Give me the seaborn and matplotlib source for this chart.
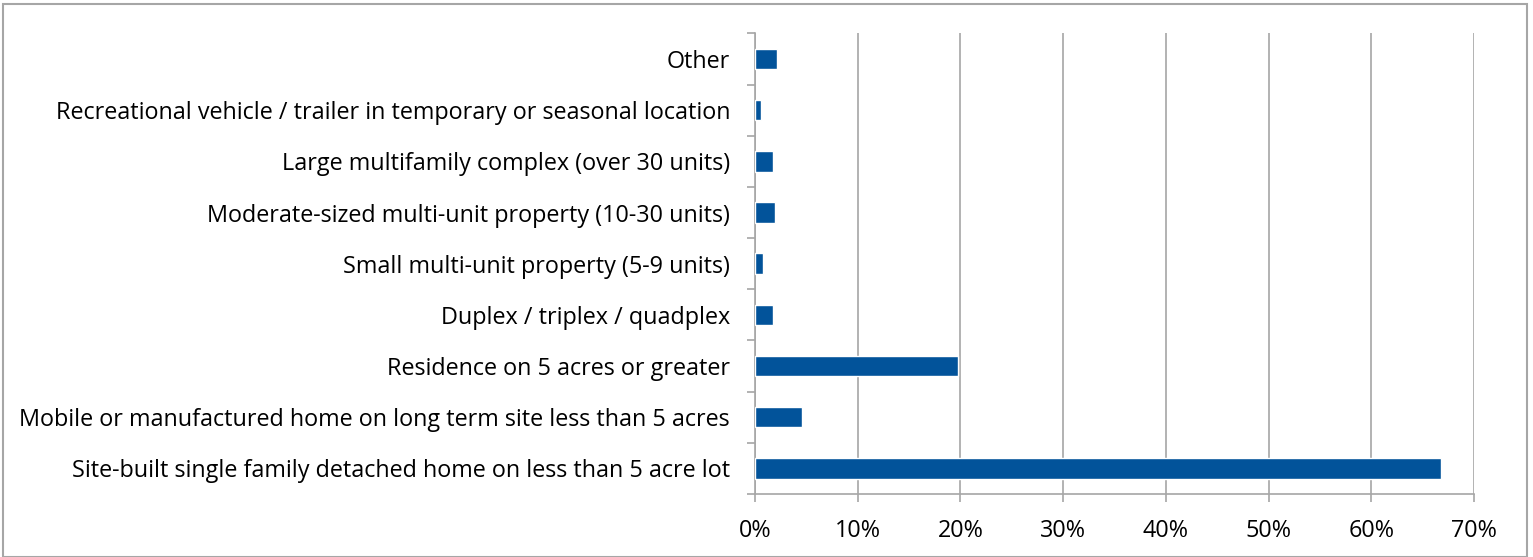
import matplotlib
matplotlib.use("Agg")
import matplotlib.pyplot as plt
import seaborn as sns
import pandas as pd
from matplotlib.ticker import FixedLocator, PercentFormatter
from matplotlib.patches import Rectangle

categories = [
    "Other",
    "Recreational vehicle / trailer in temporary or seasonal location",
    "Large multifamily complex (over 30 units)",
    "Moderate-sized multi-unit property (10-30 units)",
    "Small multi-unit property (5-9 units)",
    "Duplex / triplex / quadplex",
    "Residence on 5 acres or greater",
    "Mobile or manufactured home on long term site less than 5 acres",
    "Site-built single family detached home on less than 5 acre lot",
]
values = [2.1, 0.6, 1.8, 1.9, 0.8, 1.8, 19.8, 4.6, 66.8]
x_ticks = [0, 10, 20, 30, 40, 50, 60, 70]

df = pd.DataFrame({"category": categories, "value": values})

sns.set_theme(style="white")
plt.rcParams["font.family"] = ["Open Sans", "DejaVu Sans"]

fig = plt.figure(figsize=(15.33, 5.57), dpi=100)
ax = fig.add_axes([0.4925, 0.1131, 0.469, 0.827])

sns.barplot(data=df, x="value", y="category", orient="h", color="#02539a",
            saturation=1, width=0.4, ax=ax, zorder=3)

ax.set_xlim(0, 70)
ax.set_ylim(len(categories) - 0.5, -0.5)
ax.set_xlabel("")
ax.set_ylabel("")
ax.xaxis.set_major_locator(FixedLocator(x_ticks))
ax.xaxis.set_major_formatter(PercentFormatter(decimals=0))
ax.grid(axis="x", color="#a6a6a6", linewidth=1.2, zorder=0)
ax.grid(axis="y", visible=False)

for s in ["top", "right"]:
    ax.spines[s].set_visible(False)
for s in ["left", "bottom"]:
    ax.spines[s].set_color("#a6a6a6")
    ax.spines[s].set_linewidth(1.2)

ax.tick_params(axis="x", which="major", length=6, width=1.2, color="#a6a6a6",
               direction="out", labelsize=16.8, pad=12, labelcolor="black", bottom=True)
ax.tick_params(axis="y", which="major", length=0, labelsize=16.8, pad=18, labelcolor="black")
ax.yaxis.set_minor_locator(FixedLocator([i + 0.5 for i in range(-1, len(categories))]))
ax.tick_params(axis="y", which="minor", length=6, width=1.2, color="#a6a6a6",
               direction="out", left=True)

fig.patches.append(Rectangle((0.002, 0.0), 0.994, 0.992, transform=fig.transFigure,
                             fill=False, edgecolor="#a6a6a6", linewidth=1.5))

fig.savefig("out.png", dpi=100)
